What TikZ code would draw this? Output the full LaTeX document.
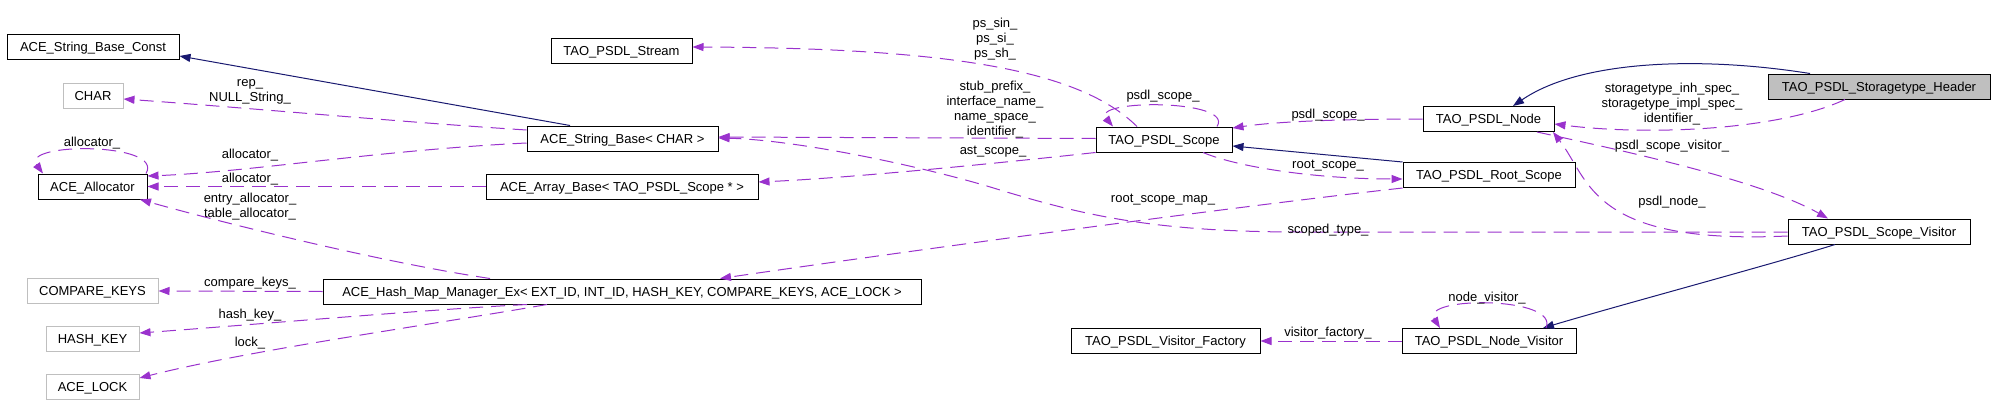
\documentclass[tikz,border=0pt]{standalone}
\usepackage{fontspec}
\setmainfont{Liberation Sans}
\usetikzlibrary{arrows.meta}
\definecolor{purp}{HTML}{9A32CD}
\definecolor{navy}{HTML}{191970}
\definecolor{grey75}{HTML}{BFBFBF}
\begin{document}
\begin{tikzpicture}[x=1pt,y=-1pt,
  box/.style={draw, line width=1pt, minimum height=25pt, inner sep=0pt, text height=9.5pt, text depth=0pt, font=\fontsize{13}{15}\selectfont},
  gbox/.style={box, draw=grey75},
  lbl/.style={font=\fontsize{13}{15}\selectfont, align=center, inner sep=0pt},
  inh/.style={draw=navy, line width=1pt, -{Triangle[length=11pt,width=8pt]}},
  use/.style={draw=purp, line width=1pt, dash pattern=on 14pt off 8pt, -{Triangle[length=11pt,width=8pt]}}]
\useasboundingbox (0,0) rectangle (1995,415);
% nodes
\node[box, minimum width=172pt] (sbc) at (93,46.5) {ACE\_String\_Base\_Const};
\node[gbox, minimum width=60pt] (char) at (93,95.5) {CHAR};
\node[box, minimum width=109pt] (alloc) at (92.5,186.5) {ACE\_Allocator};
\node[gbox, minimum width=131pt] (ckeys) at (92.5,291) {COMPARE\_KEYS};
\node[gbox, minimum width=93pt] (hkey) at (92.5,338.5) {HASH\_KEY};
\node[gbox, minimum width=93pt] (lock) at (92.5,386.5) {ACE\_LOCK};
\node[box, minimum width=141pt] (stream) at (621.5,50.5) {TAO\_PSDL\_Stream};
\node[box, minimum width=191pt] (sb) at (622.5,138.5) {ACE\_String\_Base< CHAR >};
\node[box, minimum width=272pt] (ab) at (622,186.5) {ACE\_Array\_Base< TAO\_PSDL\_Scope * >};
\node[box, minimum width=598pt] (hash) at (622,291.5) {ACE\_Hash\_Map\_Manager\_Ex< EXT\_ID, INT\_ID, HASH\_KEY, COMPARE\_KEYS, ACE\_LOCK >};
\node[box, minimum width=136pt] (scope) at (1164,139.5) {TAO\_PSDL\_Scope};
\node[box, minimum width=131pt] (node) at (1488.5,119) {TAO\_PSDL\_Node};
\node[box, minimum width=172pt] (root) at (1489,175) {TAO\_PSDL\_Root\_Scope};
\node[box, minimum width=222pt, fill=grey75] (header) at (1879,86.5) {TAO\_PSDL\_Storagetype\_Header};
\node[box, minimum width=182pt] (sv) at (1879,231.5) {TAO\_PSDL\_Scope\_Visitor};
\node[box, minimum width=174pt] (nv) at (1489,341) {TAO\_PSDL\_Node\_Visitor};
\node[box, minimum width=189pt] (vf) at (1165.5,341) {TAO\_PSDL\_Visitor\_Factory};
% edges
\draw[inh] (570,0 |- sb.north) -- (sbc.east |- 0,56);
\draw[use] (sb.west |- 0,130) .. controls (400,122) and (250,108) .. (char.east |- 0,99);
\draw[use] (sb.west |- 0,143) .. controls (380,150) and (250,172) .. (alloc.east |- 0,176);
\draw[use] (146,0 |- alloc.north) .. controls (165,142) and (20,142) .. (43,0 |- alloc.north);
\draw[use] (ab.west) -- (alloc.east);
\draw[use] (490,0 |- hash.north) .. controls (380,262) and (220,222) .. (140,0 |- alloc.south);
\draw[use] (hash.west) -- (ckeys.east);
\draw[use] (527,0 |- hash.south) .. controls (420,310) and (250,325) .. (hkey.east |- 0,333);
\draw[use] (547,0 |- hash.south) .. controls (430,325) and (250,350) .. (lock.east |- 0,378);
\draw[use] (scope.west |- 0,138.5) -- (sb.east |- 0,137);
\draw[use] (1137,0 |- scope.north) .. controls (1080,70) and (950,48) .. (stream.east |- 0,47);
\draw[use] (1217,0 |- scope.north) .. controls (1235,99) and (1090,99) .. (1113,0 |- scope.north);
\draw[use] (scope.south west) .. controls (1000,163) and (850,178) .. (ab.east |- 0,182);
\draw[inh] (root.north west) -- (scope.east |- 0,146);
\draw[use] (1203,0 |- scope.south) .. controls (1240,168) and (1320,179) .. (root.west |- 0,179);
\draw[use] (root.south west) .. controls (1250,205) and (950,245) .. (720,0 |- hash.north);
\draw[use] (node.west) .. controls (1350,119) and (1280,121) .. (scope.east |- 0,128);
\draw[inh] (1810,0 |- header.north) .. controls (1700,56) and (1580,60) .. (1513,0 |- node.north);
\draw[use] (1845,0 |- header.south) .. controls (1780,130) and (1650,136) .. (node.east |- 0,124);
\draw[use] (1537,0 |- node.south) .. controls (1620,150) and (1760,180) .. (1828,0 |- sv.north);
\draw[use] (sv.west |- 0,236) .. controls (1590,245) and (1590,180) .. (1553,0 |- node.south);
\draw[use] (sv.west |- 0,232) -- (1300,232) .. controls (1150,232) and (1080,214) .. (1000,190) .. controls (930,168) and (800,140) .. (sb.east |- 0,138);
\draw[inh] (1835,0 |- sv.south) .. controls (1780,262) and (1620,305) .. (1543,0 |- nv.north);
\draw[use] (1546,0 |- nv.north) .. controls (1560,296) and (1420,296) .. (1440,0 |- nv.north);
\draw[use] (nv.west) -- (vf.east);
% labels
\node[lbl] (l1) at (250,91.5) {rep\_\\NULL\_String\_};
\node[lbl] (l2) at (250,155) {allocator\_};
\node[lbl] (l3) at (92,143) {allocator\_};
\node[lbl] (l4) at (250,179) {allocator\_};
\node[lbl] (l5) at (250,206.5) {entry\_allocator\_\\table\_allocator\_};
\node[lbl] (l6) at (250,283) {compare\_keys\_};
\node[lbl] (l7) at (250,315) {hash\_key\_};
\node[lbl] (l8) at (250,343) {lock\_};
\node[lbl] (l9) at (995,39) {ps\_sin\_\\ps\_si\_\\ps\_sh\_};
\node[lbl] (l10) at (995,110) {stub\_prefix\_\\interface\_name\_\\name\_space\_\\identifier\_};
\node[lbl] (l11) at (1163,96) {psdl\_scope\_};
\node[lbl] (l12) at (993,152) {ast\_scope\_};
\node[lbl] (l13) at (1328,115) {psdl\_scope\_};
\node[lbl] (l14) at (1328,166) {root\_scope\_};
\node[lbl] (l15) at (1163,200) {root\_scope\_map\_};
\node[lbl] (l16) at (1672,104) {storagetype\_inh\_spec\_\\storagetype\_impl\_spec\_\\identifier\_};
\node[lbl] (l17) at (1672,146) {psdl\_scope\_visitor\_};
\node[lbl] (l18) at (1672,202) {psdl\_node\_};
\node[lbl] (l19) at (1328,230) {scoped\_type\_};
\node[lbl] (l20) at (1487,298) {node\_visitor\_};
\node[lbl] (l21) at (1328,333) {visitor\_factory\_};
\end{tikzpicture}
\end{document}
